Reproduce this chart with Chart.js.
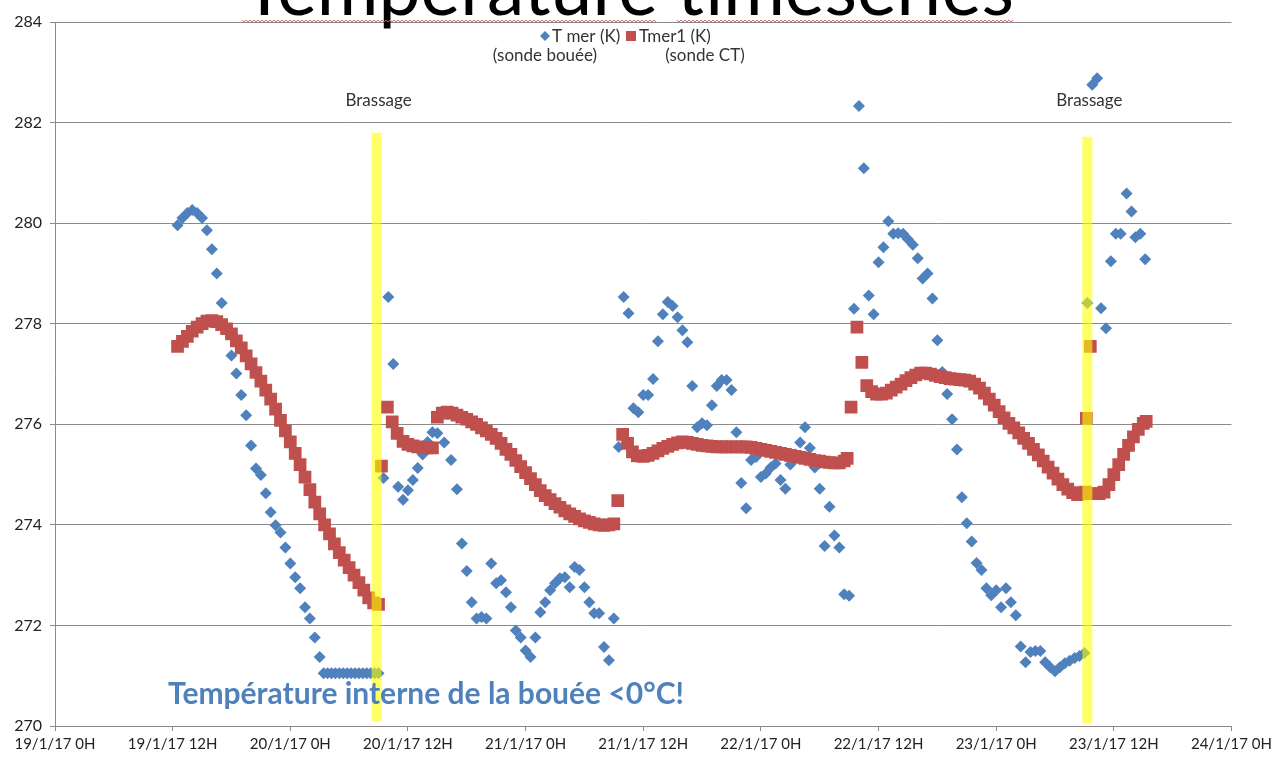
<!DOCTYPE html>
<html>
<head>
<meta charset="utf-8">
<title>Température timeseries</title>
<script src="https://cdn.jsdelivr.net/npm/chart.js@4.4.0/dist/chart.umd.min.js"></script>
<style>
  html, body { margin: 0; padding: 0; background: #fff; }
  canvas { display: block; }
</style>
</head>
<body>
<canvas id="myChart" width="1276" height="758"></canvas>
<script>
// x = hours since 19/1/17 0H
const xTickLabels = ['19/1/17 0H', '19/1/17 12H', '20/1/17 0H', '20/1/17 12H', '21/1/17 0H', '21/1/17 12H',
                     '22/1/17 0H', '22/1/17 12H', '23/1/17 0H', '23/1/17 12H', '24/1/17 0H'];
const yTicks = [270, 272, 274, 276, 278, 280, 282, 284];

// T mer (K) - sonde bouée
const blueHours = [
  12.5, 13, 13.5, 14, 14.5, 15, 15.5, 16, 16.5, 17, 17.5, 18, 18.5, 19, 19.5, 20, 20.5, 21, 21.5, 22,
  22.5, 23, 23.5, 24, 24.5, 25, 25.5, 26, 26.5, 27,
  27.4, 27.8, 28.2, 28.6, 29, 29.4, 29.8, 30.2, 30.6, 31, 31.4, 31.8, 32.2, 32.6, 33,
  33.5, 34, 34.5, 35, 35.5, 36, 36.5, 37, 37.5, 38, 38.5, 39, 39.7, 40.4, 41, 41.5, 42, 42.5, 43, 43.5,
  44, 44.5, 45, 45.5, 46, 46.5, 47, 47.5, 48, 48.5, 49, 49.5, 50, 50.5, 51, 51.5, 52, 52.5, 53, 53.5,
  54, 54.5, 55, 55.5, 56, 56.5, 57, 57.5, 58, 58.5, 59, 59.5, 60, 60.5, 61, 61.5, 62, 62.5, 63, 63.5,
  64, 64.5, 65, 65.5, 66, 66.5, 67, 67.5, 68, 68.5, 69, 69.5, 70, 70.5, 71, 71.5, 72, 72.5, 73, 73.5,
  74, 74.5, 75, 75.5, 76, 76.5, 77, 77.5, 78, 78.5, 79, 79.5, 80, 80.5, 81, 81.5, 82, 82.5, 83, 83.5,
  84, 84.5, 85, 85.5, 86, 86.5, 87, 87.5, 88, 88.5, 89, 89.5, 90, 90.5, 91, 91.5, 92, 92.5, 93, 93.5,
  94, 94.5, 95, 95.5, 96, 96.5, 97, 97.5, 98, 98.5, 99, 99.5, 100, 100.5, 101, 101.5, 102, 102.5, 103, 103.5,
  104, 104.5, 105, 105.3, 105.8, 106.3, 106.7, 107.2, 107.7, 108.2, 108.7, 109.3, 109.8, 110.2, 110.7, 111.2
];
const blueTemps = [
  279.96, 280.10, 280.20, 280.26, 280.20, 280.10, 279.86, 279.48, 279.00, 278.41, 277.90, 277.37, 277.01, 276.58, 276.18, 275.58, 275.12, 274.99, 274.63, 274.25,
  273.99, 273.85, 273.55, 273.23, 272.96, 272.74, 272.36, 272.14, 271.76, 271.37,
  271.05, 271.05, 271.05, 271.05, 271.05, 271.05, 271.05, 271.05, 271.05, 271.05, 271.05, 271.05, 271.05, 271.05, 271.05,
  274.93, 278.53, 277.20, 274.76, 274.50, 274.69, 274.89, 275.13, 275.40, 275.65, 275.84, 275.82, 275.64, 275.29, 274.71, 273.63, 273.08, 272.46, 272.14, 272.17,
  272.14, 273.23, 272.84, 272.90, 272.66, 272.36, 271.90, 271.76, 271.50, 271.37, 271.76, 272.26, 272.46, 272.70, 272.84, 272.94, 272.96, 272.76, 273.16, 273.10,
  272.76, 272.46, 272.24, 272.24, 271.57, 271.31, 272.14, 275.55, 278.53, 278.21, 276.32, 276.24, 276.58, 276.58, 276.90, 277.65, 278.19, 278.43, 278.35, 278.13,
  277.87, 277.63, 276.76, 275.94, 276.02, 275.98, 276.38, 276.76, 276.88, 276.88, 276.68, 275.84, 274.83, 274.33, 275.29, 275.35, 274.95, 275.02, 275.14, 275.22,
  274.89, 274.72, 275.20, 275.40, 275.64, 275.94, 275.53, 275.14, 274.72, 273.58, 274.36, 273.79, 273.55, 272.62, 272.59, 278.30, 282.33, 281.09, 278.56, 278.19,
  279.22, 279.52, 280.04, 279.79, 279.80, 279.79, 279.68, 279.57, 279.30, 278.90, 279.00, 278.50, 277.67, 277.04, 276.60, 276.10, 275.50, 274.55, 274.03, 273.67,
  273.24, 273.10, 272.74, 272.60, 272.70, 272.36, 272.74, 272.46, 272.20, 271.58, 271.27, 271.47, 271.49, 271.49, 271.27, 271.17, 271.09, 271.17, 271.25, 271.30,
  271.35, 271.39, 271.45, 278.41, 282.75, 282.88, 278.31, 277.91, 279.24, 279.79, 279.79, 280.59, 280.23, 279.72, 279.79, 279.28
];

// Tmer1 (K) - sonde CT
const redHours = [
  12.5, 13, 13.5, 14, 14.5, 15, 15.5, 16, 16.5, 17, 17.5, 18, 18.5, 19, 19.5, 20, 20.5, 21, 21.5, 22,
  22.5, 23, 23.5, 24, 24.5, 25, 25.5, 26, 26.5, 27, 27.5, 28, 28.5, 29, 29.5, 30, 30.5, 31, 31.5, 32, 32.5, 33,
  33.3, 33.9, 34.4, 34.9, 35.5, 36, 36.5, 37, 37.5, 38, 38.5, 39, 39.5, 40, 40.5, 41, 41.5, 42, 42.5, 43,
  43.5, 44, 44.5, 45, 45.5, 46, 46.5, 47, 47.5, 48, 48.5, 49, 49.5, 50, 50.5, 51, 51.5, 52, 52.5, 53,
  53.5, 54, 54.5, 55, 55.5, 56, 56.5, 57, 57.4,
  57.9, 58.4, 58.9, 59.4, 60, 60.5, 61, 61.5, 62, 62.5, 63, 63.5, 64, 64.5, 65, 65.5, 66, 66.5, 67, 67.5,
  68, 68.5, 69, 69.5, 70, 70.5, 71, 71.5, 72, 72.5, 73, 73.5, 74, 74.5, 75, 75.5, 76, 76.5, 77, 77.5,
  78, 78.5, 79, 79.5, 80, 80.5, 80.8,
  81.2, 81.8, 82.3, 82.8, 83.3, 83.8, 84.3, 84.8, 85.3, 85.8, 86.3, 86.8, 87.3, 87.8, 88.3, 88.8, 89.3, 89.8,
  90.3, 90.8, 91.3, 91.8, 92.3, 92.8, 93.3, 93.8, 94.3, 94.8, 95.3, 95.8, 96.3, 96.8, 97.3, 97.8, 98.3, 98.8,
  99.3, 99.8, 100.3, 100.8, 101.3, 101.8, 102.3, 102.8, 103.3, 103.8, 104.3, 104.8, 105.1, 105.2, 105.6,
  106, 106.5, 107, 107.5, 108, 108.5, 109, 109.5, 110, 110.5, 111, 111.3
];
const redTemps = [
  277.55, 277.65, 277.75, 277.85, 277.93, 278.00, 278.05, 278.06, 278.04, 277.98, 277.90, 277.80, 277.66, 277.52, 277.36, 277.20, 277.03, 276.86, 276.68, 276.50,
  276.30, 276.08, 275.87, 275.65, 275.42, 275.20, 274.95, 274.70, 274.45, 274.22, 274.00, 273.82, 273.62, 273.45, 273.30, 273.15, 273.00, 272.85, 272.70, 272.55, 272.45, 272.42,
  275.17, 276.34, 276.05, 275.82, 275.66, 275.60, 275.57, 275.55, 275.54, 275.53, 275.53, 276.14, 276.22, 276.24, 276.22, 276.18, 276.14, 276.10, 276.05, 276.00,
  275.93, 275.87, 275.80, 275.72, 275.62, 275.50, 275.40, 275.28, 275.16, 275.04, 274.92, 274.80, 274.68, 274.58, 274.50, 274.42, 274.35, 274.28, 274.22, 274.17,
  274.12, 274.08, 274.05, 274.02, 274.00, 273.99, 274.00, 274.02, 274.48,
  275.80, 275.62, 275.45, 275.37, 275.36, 275.38, 275.42, 275.47, 275.52, 275.56, 275.60, 275.63, 275.65, 275.64, 275.62, 275.60, 275.58, 275.57, 275.56, 275.55,
  275.55, 275.55, 275.55, 275.55, 275.55, 275.55, 275.54, 275.52, 275.50, 275.48, 275.46, 275.44, 275.42, 275.40, 275.38, 275.36, 275.34, 275.32, 275.30, 275.28,
  275.27, 275.25, 275.24, 275.23, 275.23, 275.27, 275.32,
  276.34, 277.93, 277.23, 276.77, 276.65, 276.60, 276.60, 276.62, 276.68, 276.74, 276.80, 276.87, 276.93, 276.98, 277.02, 277.02, 277.00, 276.97,
  276.95, 276.93, 276.91, 276.90, 276.89, 276.88, 276.86, 276.80, 276.72, 276.62, 276.50, 276.38, 276.25, 276.13, 276.02, 275.93, 275.83, 275.72,
  275.62, 275.50, 275.39, 275.27, 275.15, 275.03, 274.91, 274.80, 274.71, 274.64, 274.60, 274.62, 274.65, 276.12, 277.55,
  274.62, 274.62, 274.65, 274.80, 275.00, 275.20, 275.40, 275.58, 275.75, 275.90, 276.02, 276.06
];

// "Brassage" markers
const brassageHours = [32.8, 105.3];
const brassageTop = [281.8, 281.72];
const brassageBottom = [270.1, 270.05];

const titleText = 'Température timeseries';
const noteText = 'Température interne de la bouée <0°C!';

const toPoints = (xs, ys) => xs.map((h, i) => ({x: h, y: ys[i]}));

const brassageSets = brassageHours.map((h, i) => ({
  label: 'Brassage ' + (i + 1),
  data: [{x: h, y: brassageBottom[i]}, {x: h, y: brassageTop[i]}],
  showLine: true,
  borderColor: 'rgba(255,255,0,0.6)',
  borderWidth: 10,
  borderCapStyle: 'butt',
  pointRadius: 0,
  order: -1
}));

// title, legend and text labels
const decor = {
  id: 'decor',
  afterDraw(chart) {
    const ctx = chart.ctx;
    const xs = chart.scales.x;
    ctx.save();

    // title (cut off at the top of the picture)
    ctx.font = '75px Lato';
    ctx.fillStyle = '#000';
    ctx.textBaseline = 'alphabetic';
    ctx.textAlign = 'left';
    const full = ctx.measureText(titleText).width;
    const tx = 628 - full / 2;
    ctx.fillText(titleText, tx, 15);
    // spell-check squiggles
    const words = titleText.split(' ');
    let wx = tx;
    ctx.strokeStyle = '#e06060';
    ctx.lineWidth = 1;
    words.forEach(w => {
      const ww = ctx.measureText(w).width;
      ctx.beginPath();
      for (let p = 0; p <= ww; p += 2) {
        const yy = 21 + ((p / 2) % 2 ? 1 : -1);
        if (p === 0) ctx.moveTo(wx + p, yy); else ctx.lineTo(wx + p, yy);
      }
      ctx.stroke();
      wx += ww + ctx.measureText(' ').width;
    });

    // legend
    ctx.font = '17px Lato';
    ctx.textAlign = 'left';
    ctx.fillStyle = '#4F81BD';
    ctx.beginPath();
    ctx.moveTo(545, 31); ctx.lineTo(550, 36); ctx.lineTo(545, 41); ctx.lineTo(540, 36);
    ctx.closePath(); ctx.fill();
    ctx.fillStyle = '#C0504D';
    ctx.fillRect(626, 31, 10, 10);
    ctx.fillStyle = '#333';
    ctx.fillText('T mer (K)', 552, 42);
    ctx.fillText('Tmer1 (K)', 639, 42);
    ctx.textAlign = 'center';
    ctx.fillText('(sonde bouée)', 545, 61);
    ctx.fillText('(sonde CT)', 705, 61);

    // Brassage labels
    brassageHours.forEach(h => {
      ctx.fillText('Brassage', xs.getPixelForValue(h) + 2, 106);
    });

    // note
    ctx.font = 'bold 30px Lato';
    ctx.fillStyle = '#4F81BD';
    ctx.textAlign = 'left';
    ctx.fillText(noteText, 168, 704);
    ctx.restore();
  }
};

const ctx = document.getElementById('myChart').getContext('2d');
const chart = new Chart(ctx, {
  type: 'scatter',
  data: {
    datasets: [
      {
        label: 'T mer (K) (sonde bouée)',
        data: toPoints(blueHours, blueTemps),
        pointStyle: 'rectRot',
        pointRadius: 6,
        pointBorderWidth: 0,
        backgroundColor: '#4F81BD',
        borderColor: '#4F81BD',
        order: 1
      },
      {
        label: 'Tmer1 (K) (sonde CT)',
        data: toPoints(redHours, redTemps),
        pointStyle: 'rect',
        pointRadius: 9,
        pointBorderWidth: 0,
        backgroundColor: '#C0504D',
        borderColor: '#C0504D',
        order: 0
      },
      ...brassageSets
    ]
  },
  options: {
    responsive: false,
    animation: false,
    devicePixelRatio: 1,
    layout: { padding: { top: 22, right: 42, left: 0, bottom: 0 } },
    plugins: {
      legend: { display: false },
      tooltip: { enabled: false }
    },
    scales: {
      x: {
        type: 'linear',
        min: 0,
        max: 120,
        afterFit(scale) { scale.height = 32; },
        afterBuildTicks(scale) { scale.ticks = xTickLabels.map((t, i) => ({value: i * 12})); },
        ticks: {
          autoSkip: false,
          maxRotation: 0,
          padding: 4,
          color: '#222',
          font: { family: 'Lato', size: 15 },
          callback: (v) => xTickLabels[Math.round(v / 12)]
        },
        grid: { drawOnChartArea: false, tickLength: 5, color: '#8a8a8a' },
        border: { color: '#8a8a8a' }
      },
      y: {
        min: 270,
        max: 284,
        afterFit(scale) { scale.width = 55; },
        afterBuildTicks(scale) { scale.ticks = yTicks.map(v => ({value: v})); },
        ticks: {
          padding: 8,
          color: '#222',
          font: { family: 'Lato', size: 16 }
        },
        grid: { tickLength: 5, color: '#8a8a8a' },
        border: { color: '#8a8a8a' }
      }
    }
  },
  plugins: [decor]
});
</script>
</body>
</html>
